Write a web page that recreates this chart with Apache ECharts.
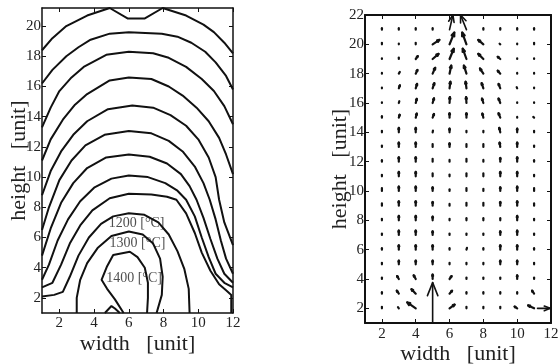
<!DOCTYPE html>
<html>
<head>
<meta charset="utf-8">
<script src="https://cdn.jsdelivr.net/npm/echarts@6/dist/echarts.min.js"></script>
<style>html,body{margin:0;padding:0;background:#fff}#c{width:559px;height:364px}</style>
</head>
<body>
<div id="c"></div>
<script>
// ---------- Left: temperature contour lines (x = width, y = height) ----------
const contour300  = [[1,18.4],[1.6,19.2],[2.4,20.0],[3.6,20.7],[4.9,21.2],[5.95,20.5],[6.9,20.5],[7.95,21.2],[9.3,20.7],[10.3,20.1],[10.9,19.6],[11.5,18.9],[12,18.2]];
const contour400  = [[1,16.2],[1.6,17.1],[2.4,18.0],[3.1,18.6],[3.8,19.1],[4.9,19.5],[6,19.6],[7.9,19.5],[8.8,19.3],[9.6,18.9],[10.4,18.3],[11,17.6],[11.6,16.7],[12,15.8]];
const contour500  = [[1,13.3],[1.5,14.6],[2.0,15.7],[2.7,16.6],[3.4,17.3],[4.7,18.1],[6,18.3],[7.4,18.2],[8.3,17.9],[9.3,17.3],[10.2,16.5],[10.9,15.7],[11.5,14.7],[12,13.5]];
const contour600  = [[1,11.1],[1.5,12.5],[2.2,13.8],[2.9,14.8],[3.6,15.5],[4.9,16.4],[6,16.6],[7.3,16.5],[8.3,16.0],[9.1,15.4],[9.9,14.6],[10.6,13.7],[11.2,12.6],[11.6,11.5],[12,10.2]];
const contour700  = [[1,8.8],[1.5,10.4],[2.1,11.7],[2.8,12.8],[3.6,13.7],[4.8,14.5],[6.2,14.75],[7.4,14.6],[8.4,14.1],[9.3,13.4],[10.0,12.5],[10.6,11.3],[11.0,10.0],[11.2,8.5],[11.5,7.0],[12,5.5]];
const contour800  = [[1,6.5],[1.4,8.0],[2.0,9.8],[2.7,11.1],[3.5,12.1],[4.6,12.8],[6,13.05],[7.3,12.9],[8.3,12.4],[9.1,11.7],[9.8,10.7],[10.3,9.6],[10.66,8.5],[11.0,7.2],[11.3,5.8],[11.6,4.6],[12,3.6]];
const contour900  = [[1,4.8],[1.5,6.6],[2.1,8.3],[2.8,9.6],[3.6,10.6],[4.7,11.3],[6,11.5],[7.2,11.35],[8.2,10.9],[9.0,10.2],[9.5,9.4],[9.9,8.5],[10.3,7.3],[10.7,5.9],[11.1,4.6],[11.5,3.6],[12,3.0]];
const contour1000 = [[1,3.2],[1.4,4.2],[1.9,5.8],[2.5,7.2],[3.2,8.4],[4.0,9.3],[5,9.9],[6,10.1],[7.1,10.0],[8.1,9.6],[8.8,9.1],[9.3,8.5],[9.8,7.4],[10.2,6.0],[10.6,4.7],[11.0,3.6],[11.5,3.0],[12,2.7]];
const contour1100 = [[1,2.7],[1.6,3.0],[2.1,4.2],[2.6,5.6],[3.2,6.8],[3.9,7.8],[4.9,8.6],[6,8.9],[7.3,8.85],[8.2,8.7],[8.74,8.5],[9.3,7.6],[9.8,6.3],[10.2,5.0],[10.7,3.8],[11.2,2.9],[11.6,2.5],[11.9,2.2],[11.9,1]];
const contour1200 = [[1,2.1],[1.7,2.2],[2.2,2.4],[2.6,3.4],[3.1,4.8],[3.7,6.0],[4.4,6.9],[5.1,7.4],[6,7.6],[6.9,7.5],[7.7,7.0],[8.3,6.2],[8.8,5.1],[9.2,3.9],[9.45,2.6],[9.5,1]];
const contour1300 = [[3.0,1],[3.0,2.0],[3.2,3.2],[3.6,4.3],[4.2,5.3],[5.0,6.1],[6.0,6.4],[6.8,6.2],[7.4,5.6],[7.8,4.6],[7.95,3.4],[7.9,2.2],[7.6,1]];
const contour1400 = [[5.7,1],[5.2,1.9],[4.75,2.6],[4.43,3.2],[4.75,4.1],[5.1,4.84],[6.06,5.06],[6.5,4.7],[6.92,4.0],[7.1,3.0],[7.1,2.0],[7.05,1]];
const contour1500 = [[4.62,1],[5.0,1.46],[5.2,1.3],[5.48,1]];
const contourLines = [contour300, contour400, contour500, contour600, contour700, contour800, contour900, contour1000, contour1100, contour1200, contour1300, contour1400, contour1500];

const contourLabelText = ['1200 [°C]', '1300 [°C]', '1400 [°C]'];
const contourLabelX = [6.45, 6.5, 6.3];
const contourLabelY = [6.95, 5.6, 3.3];

// ---------- Right: velocity vectors ----------
const quiverX = [2,3,4,5,6,7,8,9,10,11];
const quiverY = [21,20,19,18,17,16,15,14,13,12,11,10,9,8,7,6,5,4,3,2];
const quiverU = [
  [0,0,0,0,0,0,0,0,0,0],
  [0,0,0,0.4,0.28,-0.25,-0.3,-0.04,0,0],
  [0,0,0.12,0.35,0.25,-0.22,-0.3,-0.15,0,0],
  [0,0.06,0.1,0.15,0.1,-0.15,-0.2,-0.15,0,0],
  [0,0.06,0.08,0.1,0.05,-0.05,-0.1,-0.1,-0.03,0],
  [0,0.03,0.06,0.08,0.02,-0.02,-0.08,-0.1,0,0],
  [0,0.05,0.06,0.08,0,0,-0.06,-0.1,0,-0.05],
  [0,0,0,0.02,0,0,0,-0.06,0,0],
  [0,0,0,0,0,0,0,-0.04,0,0],
  [0,0,0,0,0,0,0,0,0,0],
  [0,0,0,0,0,0,0,0,0,0],
  [0,0,0,0,0,0,0,0,0,0],
  [0,0,0,0,0,0,0,0,0,0],
  [0,0,0,0,0,0,0,0,0,0],
  [0,0,0,0,0,0,0,0,0,0],
  [0,0,0,0,0,0.03,0,0,0,0],
  [0,0,0,0,0,0,0,0,0,0],
  [0,-0.1,-0.12,0,0.12,0,0,0,0,0],
  [0,-0.12,-0.25,0,0.15,0,0,0,0,-0.12],
  [0,-0.05,-0.5,0,0.3,0,0,0,-0.15,-0.35]
];
const quiverV = [
  [0.1,0.1,0.1,0.1,0,0,0.1,0.1,0.1,0.1],
  [0.1,0.05,0.1,0.3,0.8,0.8,0.3,0.04,0.05,0.1],
  [0.05,0.1,0.2,0.35,0.7,0.7,0.35,0.15,0.05,0.05],
  [0.05,0.12,0.25,0.4,0.55,0.55,0.35,0.2,0.05,0.05],
  [0.05,0.2,0.3,0.35,0.45,0.45,0.35,0.3,0.08,0.05],
  [0.05,0.12,0.28,0.32,0.4,0.4,0.3,0.3,0.05,0.05],
  [0.1,0.2,0.28,0.25,0.3,0.3,0.28,0.3,0.05,0.05],
  [0.1,0.3,0.3,0.12,0.25,0.1,0.1,0.3,0.25,0.1],
  [0.1,0.3,0.3,0.2,0.25,0.2,0.2,0.3,0.3,0.1],
  [0.1,0.3,0.3,0.2,0.12,0.2,0.12,0.25,0.3,0.1],
  [0.1,0.3,0.3,0.2,0.12,0.2,0.2,0.3,0.3,0.1],
  [0.2,0.3,0.3,0.25,0.12,0.2,0.15,0.25,0.3,0.2],
  [0.15,0.3,0.3,0.25,0.12,0.2,0.2,0.25,0.3,0.15],
  [0.1,0.3,0.3,0.25,0.1,0.15,0.15,0.15,0.3,0.1],
  [0.1,0.3,0.3,0.25,0.1,0.1,0.1,0.25,0.3,0.1],
  [0.1,0.3,0.3,0.3,0.1,0.12,0.1,0.3,0.3,0.1],
  [0.1,0.25,0.25,0.25,0.1,0.1,0.1,0.25,0.25,0.1],
  [0.1,0.2,0.25,0.3,0.2,0.1,0.1,0.1,0.25,0.1],
  [0.1,0.2,0.3,0,0.2,0.1,0.1,0.1,0.1,0.2],
  [0.1,0.08,0.4,0,0.25,0.1,0.1,0.1,0.12,0.2]
];
// inlet / outlet arrows
const bigArrowX = [5, 6, 7, 11.2];
const bigArrowY = [1, 21, 21, 2];
const bigArrowU = [0, 0.2, -0.35, 0.75];
const bigArrowV = [2.75, 1.0, 1.0, 0];

// ticks
const leftXTicks = [2,4,6,8,10,12];
const leftYTicks = [2,4,6,8,10,12,14,16,18,20];
const rightXTicks = [2,4,6,8,10,12];
const rightYTicks = [2,4,6,8,10,12,14,16,18,20,22];

// ---------- build ----------
const quiverData = [];
quiverY.forEach((y, r) => quiverX.forEach((x, c) => {
  const u = quiverU[r][c], v = quiverV[r][c];
  if (u !== 0 || v !== 0) quiverData.push([x, y, u, v]);
}));
const bigArrowData = bigArrowX.map((x, i) => [x, bigArrowY[i], bigArrowU[i], bigArrowV[i]]);

function arrowRenderer(lw, headRatio, headMax) {
  return function (params, api) {
    const x = api.value(0), y = api.value(1), u = api.value(2), v = api.value(3);
    const p0 = api.coord([x, y]), p1 = api.coord([x + u, y + v]);
    const dx = p1[0] - p0[0], dy = p1[1] - p0[1];
    const L = Math.hypot(dx, dy);
    const mk = () => ({ stroke: '#111', lineWidth: lw, lineCap: 'round', lineJoin: 'round', fill: null });
    const ch = [{ type: 'line', shape: { x1: p0[0], y1: p0[1], x2: p1[0], y2: p1[1] }, style: mk() }];
    if (L > 3) {
      const h = Math.min(L * headRatio, headMax), a = Math.atan2(dy, dx), s = 0.38;
      ch.push({ type: 'polyline', shape: { points: [
        [p1[0] - h * Math.cos(a - s), p1[1] - h * Math.sin(a - s)], [p1[0], p1[1]],
        [p1[0] - h * Math.cos(a + s), p1[1] - h * Math.sin(a + s)]] }, style: mk() });
    }
    return { type: 'group', children: ch };
  };
}

const serif = 'Liberation Serif';
const tickLabel = { fontFamily: serif, fontSize: 15, color: '#222' };
function mainX(grid, min, max, ticks, name, gap, lw, labMargin) {
  return { type: 'value', gridIndex: grid, min, max, position: 'bottom',
    name, nameLocation: 'middle', nameGap: gap, nameMoveOverlap: false,
    nameTextStyle: { fontFamily: serif, fontSize: 22, color: '#222' },
    axisLine: { show: true, onZero: false, lineStyle: { color: '#111', width: lw } },
    axisTick: { show: true, inside: true, length: 4, customValues: ticks, lineStyle: { color: '#111' } },
    axisLabel: Object.assign({ show: true, margin: labMargin, customValues: ticks, showMinLabel: true, showMaxLabel: true }, tickLabel),
    splitLine: { show: false } };
}
function mainY(grid, min, max, ticks, name, gap, lw) {
  return { type: 'value', gridIndex: grid, min, max, position: 'left',
    name, nameLocation: 'middle', nameGap: gap, nameMoveOverlap: false,
    nameTextStyle: { fontFamily: serif, fontSize: 22, color: '#222' },
    axisLine: { show: true, onZero: false, lineStyle: { color: '#111', width: lw } },
    axisTick: { show: true, inside: true, length: 4, customValues: ticks, lineStyle: { color: '#111' } },
    axisLabel: Object.assign({ show: true, margin: 1, customValues: ticks }, tickLabel),
    splitLine: { show: false } };
}
function mirror(grid, min, max, ticks, pos, lw) {
  return { type: 'value', gridIndex: grid, min, max, position: pos,
    axisLine: { show: true, onZero: false, lineStyle: { color: '#111', width: lw } },
    axisTick: { show: true, inside: true, length: 4, customValues: ticks, lineStyle: { color: '#111' } },
    axisLabel: { show: false }, splitLine: { show: false } };
}

const series = contourLines.map(pts => ({
  type: 'line', xAxisIndex: 0, yAxisIndex: 0, data: pts, showSymbol: false, symbol: 'none',
  smooth: false, clip: true, silent: true, animation: false,
  lineStyle: { color: '#111', width: 2 }
}));
series.push({
  type: 'scatter', xAxisIndex: 0, yAxisIndex: 0, symbolSize: 0, silent: true, animation: false,
  data: contourLabelText.map((t, i) => ({ name: t, value: [contourLabelX[i], contourLabelY[i]] })),
  label: { show: true, position: 'inside', formatter: '{b}', fontFamily: serif, fontSize: 14, color: '#222' }
});
series.push({
  type: 'custom', xAxisIndex: 2, yAxisIndex: 2, data: quiverData, silent: true, animation: false,
  encode: { x: 0, y: 1 }, renderItem: arrowRenderer(2.2, 0.3, 6), clip: false
});
series.push({
  type: 'custom', xAxisIndex: 2, yAxisIndex: 2, data: bigArrowData, silent: true, animation: false,
  encode: { x: 0, y: 1 }, renderItem: arrowRenderer(1.6, 0.5, 14), clip: false
});

const option = {
  animation: false,
  backgroundColor: '#fff',
  grid: [
    { left: 42, right: 326, top: 8, bottom: 51, containLabel: false, outerBoundsMode: 'none' },
    { left: 365, right: 8, top: 15, bottom: 41, containLabel: false, outerBoundsMode: 'none' }
  ],
  xAxis: [
    mainX(0, 1, 12, leftXTicks, 'width   [unit]', 20, 1.5, 3),
    mirror(0, 1, 12, leftXTicks, 'top', 1.5),
    mainX(1, 1, 12, rightXTicks, 'width   [unit]', 20, 2, 4),
    mirror(1, 1, 12, rightXTicks, 'top', 2)
  ],
  yAxis: [
    mainY(0, 1, 21.2, leftYTicks, 'height   [unit]', 12, 1.5),
    mirror(0, 1, 21.2, leftYTicks, 'right', 1.5),
    mainY(1, 1, 22, rightYTicks, 'height   [unit]', 14, 2),
    mirror(1, 1, 22, rightYTicks, 'right', 2)
  ],
  series
};

const chart = echarts.init(document.getElementById('c'), null, { renderer: 'canvas' });
chart.setOption(option);
</script>
</body>
</html>
